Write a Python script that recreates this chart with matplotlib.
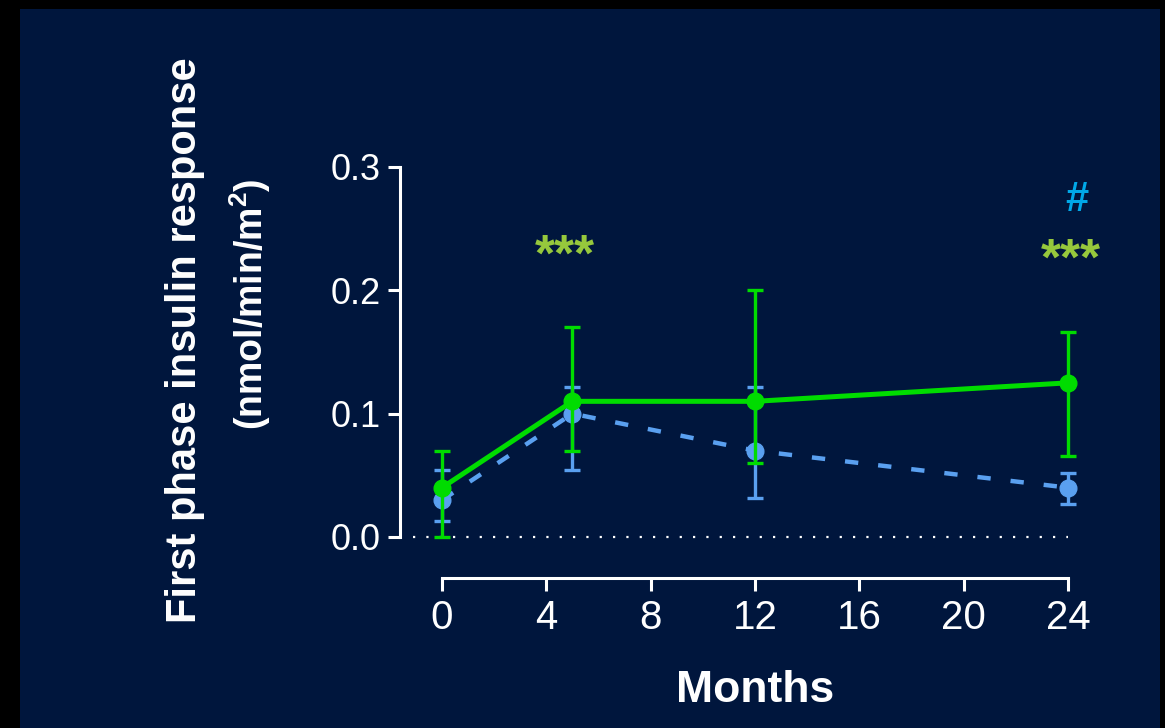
import numpy as np
import matplotlib
matplotlib.use("Agg")
import matplotlib.pyplot as plt
from matplotlib.patches import Rectangle

plt.rcParams['font.family'] = ['Liberation Sans', 'DejaVu Sans']
plt.rcParams['mathtext.fontset'] = 'custom'
plt.rcParams['mathtext.bf'] = 'Liberation Sans:bold'
plt.rcParams['mathtext.rm'] = 'Liberation Sans'

# Data
months = [0, 5, 12, 24]
green_mean = [0.040, 0.110, 0.110, 0.125]
green_low = [0.000, 0.070, 0.060, 0.066]
green_high = [0.070, 0.170, 0.200, 0.166]
blue_mean = [0.030, 0.100, 0.070, 0.040]
blue_low = [0.013, 0.054, 0.032, 0.027]
blue_high = [0.054, 0.122, 0.122, 0.052]
xticks = [0, 4, 8, 12, 16, 20, 24]
yticks = [0.0, 0.1, 0.2, 0.3]

navy = '#00163d'
green = '#00dc00'
blue = '#5aa0f0'
star_green = '#96c83c'
hash_blue = '#00a8e8'

W, H = 1165, 728
fig = plt.figure(figsize=(W / 100, H / 100), dpi=100, facecolor='black')
fig.patches.append(Rectangle((20 / W, 0), 1140 / W, (H - 9) / H,
                             transform=fig.transFigure, facecolor=navy,
                             edgecolor='none', zorder=-10))

ax = fig.add_axes([400 / W, (H - 537) / H, 680 / W, 370 / H])
ax.set_facecolor('none')

scale = (1068 - 442) / 24.0
ax.set_xlim(-42 / scale, 24 + 12 / scale)
ax.set_ylim(0, 0.3)

# zero reference line
ax.plot([-29 / scale, 24], [0, 0], color='white', linestyle=(0, (1, 5)),
        linewidth=1.6, zorder=1, clip_on=False)

gm = np.array(green_mean)
bm = np.array(blue_mean)
ax.errorbar(months, blue_mean,
            yerr=[bm - np.array(blue_low), np.array(blue_high) - bm],
            color=blue, linestyle=(0, (3, 4.5)), linewidth=3.2, marker='o',
            markersize=12, elinewidth=2.4, capsize=6, capthick=2.4, zorder=3,
            clip_on=False)
ax.errorbar(months, green_mean,
            yerr=[gm - np.array(green_low), np.array(green_high) - gm],
            color=green, linestyle='-', linewidth=3.6, marker='o',
            markersize=12, elinewidth=2.4, capsize=6, capthick=2.4, zorder=4,
            clip_on=False)

# significance marks
ax.text(4.72, 0.2157, '***', color=star_green, fontsize=37, fontweight='bold',
        ha='center', va='baseline', clip_on=False)
ax.text(24.1, 0.213, '***', color=star_green, fontsize=37, fontweight='bold',
        ha='center', va='baseline', clip_on=False)
ax.text(24.35, 0.264, '#', color=hash_blue, fontsize=30, fontweight='bold',
        ha='center', va='baseline', clip_on=False)

# axes styling
for s in ['top', 'right']:
    ax.spines[s].set_visible(False)
ax.spines['left'].set_color('white')
ax.spines['left'].set_linewidth(2.2)
ax.spines['left'].set_bounds(0, 0.3)
ax.spines['bottom'].set_color('white')
ax.spines['bottom'].set_linewidth(2.2)
ax.spines['bottom'].set_position(('outward', 29.5))
ax.spines['bottom'].set_bounds(0, 24)

ax.set_xticks(xticks)
ax.set_yticks(yticks)
ax.set_yticklabels(['0.0', '0.1', '0.2', '0.3'])
ax.tick_params(colors='white', width=2.2, length=9)
ax.tick_params(axis='x', labelsize=29, pad=6)
ax.tick_params(axis='y', labelsize=26, pad=5)

fig.text(185 / W, 1 - 340 / H, 'First phase insulin response', color='white',
         fontsize=30, fontweight='bold', rotation=90, ha='center', va='center')
fig.text(250 / W, 1 - 304 / H, r'(nmol/min/m$^{\mathbf{2}}$)', color='white',
         fontsize=27, fontweight='bold', rotation=90, ha='center', va='center')
fig.text(755 / W, 1 - 690 / H, 'Months', color='white', fontsize=32,
         fontweight='bold', ha='center', va='center')

fig.savefig('out.png', dpi=100, facecolor=fig.get_facecolor())
